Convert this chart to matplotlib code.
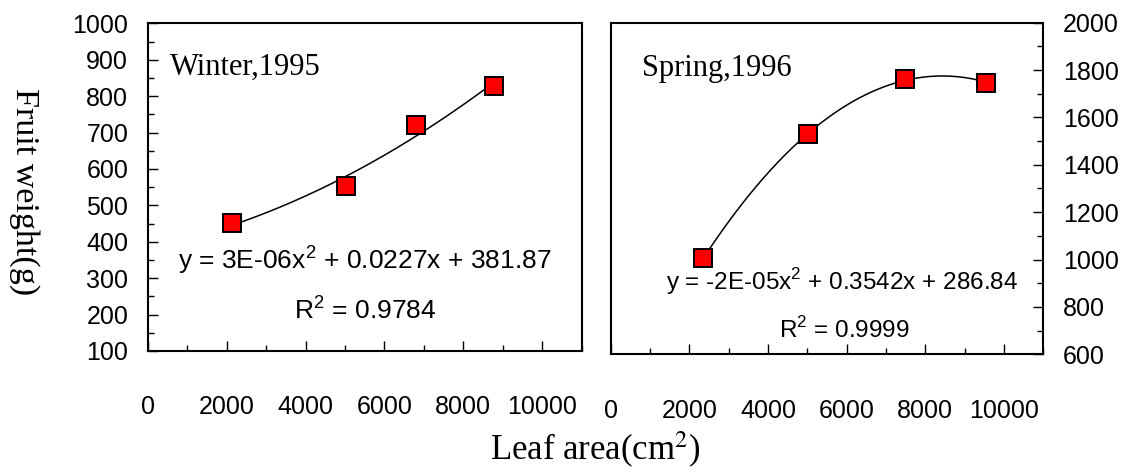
import numpy as np
import matplotlib
matplotlib.use('Agg')
from matplotlib import pyplot as plt
from matplotlib.ticker import MultipleLocator

# Data
winter_area = [2140, 5030, 6790, 8780]
winter_weight = [451, 554, 720, 828]
spring_area = [2360, 5030, 7490, 9550]
spring_weight = [1008, 1529, 1762, 1747]

winter_eq = 'y = 3E-06x$^2$ + 0.0227x + 381.87'
winter_r2 = 'R$^2$ = 0.9784'
spring_eq = 'y = -2E-05x$^2$ + 0.3542x + 286.84'
spring_r2 = 'R$^2$ = 0.9999'

plt.rcParams['mathtext.fontset'] = 'custom'
plt.rcParams['mathtext.rm'] = 'Liberation Sans'
sans = 'Liberation Sans'
serif = 'Liberation Serif'

fig = plt.figure(figsize=(11.3, 4.72), dpi=100)
ax1 = fig.add_axes([0.1307, 0.2564, 0.3841, 0.6942])
ax2 = fig.add_axes([0.5404, 0.2494, 0.3828, 0.7025])


def style(ax, ymin, ymax, ymaj, side):
    ax.set_xlim(0, 11000)
    ax.set_ylim(ymin, ymax)
    ax.xaxis.set_major_locator(MultipleLocator(2000))
    ax.xaxis.set_minor_locator(MultipleLocator(1000))
    ax.yaxis.set_major_locator(MultipleLocator(ymaj))
    ax.yaxis.set_minor_locator(MultipleLocator(ymaj / 2))
    for s in ax.spines.values():
        s.set_linewidth(1.5)
    ax.tick_params(axis='x', which='both', direction='in', top=False,
                   labelsize=18, pad=32, width=1)
    ax.tick_params(axis='x', which='major', length=7)
    ax.tick_params(axis='x', which='minor', length=4)
    if side == 'left':
        ax.tick_params(axis='y', which='both', direction='in', right=False,
                       labelsize=18, pad=14, width=1)
    else:
        ax.yaxis.tick_right()
        ax.tick_params(axis='y', which='both', direction='in', left=False,
                       labelsize=18, pad=14, width=1)
    ax.tick_params(axis='y', which='major', length=7)
    ax.tick_params(axis='y', which='minor', length=4)
    for lab in ax.get_xticklabels() + ax.get_yticklabels():
        lab.set_fontfamily(sans)


def draw(ax, x, y):
    x = np.array(x, dtype=float)
    y = np.array(y, dtype=float)
    c = np.polyfit(x, y, 2)
    xs = np.linspace(x.min(), x.max(), 200)
    ax.plot(xs, np.polyval(c, xs), color='black', lw=1.1, zorder=2)
    ax.plot(x, y, ls='none', marker='s', ms=12.5, mfc='#ff0000',
            mec='black', mew=1.4, zorder=3)


draw(ax1, winter_area, winter_weight)
style(ax1, 100, 1000, 100, 'left')
ax1.text(0.05, 0.865, 'Winter,1995', transform=ax1.transAxes, fontsize=22,
         family=serif, va='center', ha='left')
ax1.text(0.5, 0.28, winter_eq, transform=ax1.transAxes, fontsize=19,
         family=sans, ha='center', va='center')
ax1.text(0.5, 0.125, winter_r2, transform=ax1.transAxes, fontsize=19,
         family=sans, ha='center', va='center')

draw(ax2, spring_area, spring_weight)
style(ax2, 600, 2000, 200, 'right')
ax2.text(0.072, 0.862, 'Spring,1996', transform=ax2.transAxes, fontsize=22,
         family=serif, va='center', ha='left')
ax2.text(0.535, 0.22, spring_eq, transform=ax2.transAxes, fontsize=17.5,
         family=sans, ha='center', va='center')
ax2.text(0.54, 0.072, spring_r2, transform=ax2.transAxes, fontsize=17.5,
         family=sans, ha='center', va='center')

fig.text(0.022, 0.595, 'Fruit weight(g)', rotation=270, fontsize=24.5,
         family=serif, ha='center', va='center')
fig.text(0.527, 0.024, 'Leaf area(cm$^2$)', fontsize=25, family=serif,
         ha='center', va='baseline', math_fontfamily='stix')

fig.savefig('out.png', dpi=100)
